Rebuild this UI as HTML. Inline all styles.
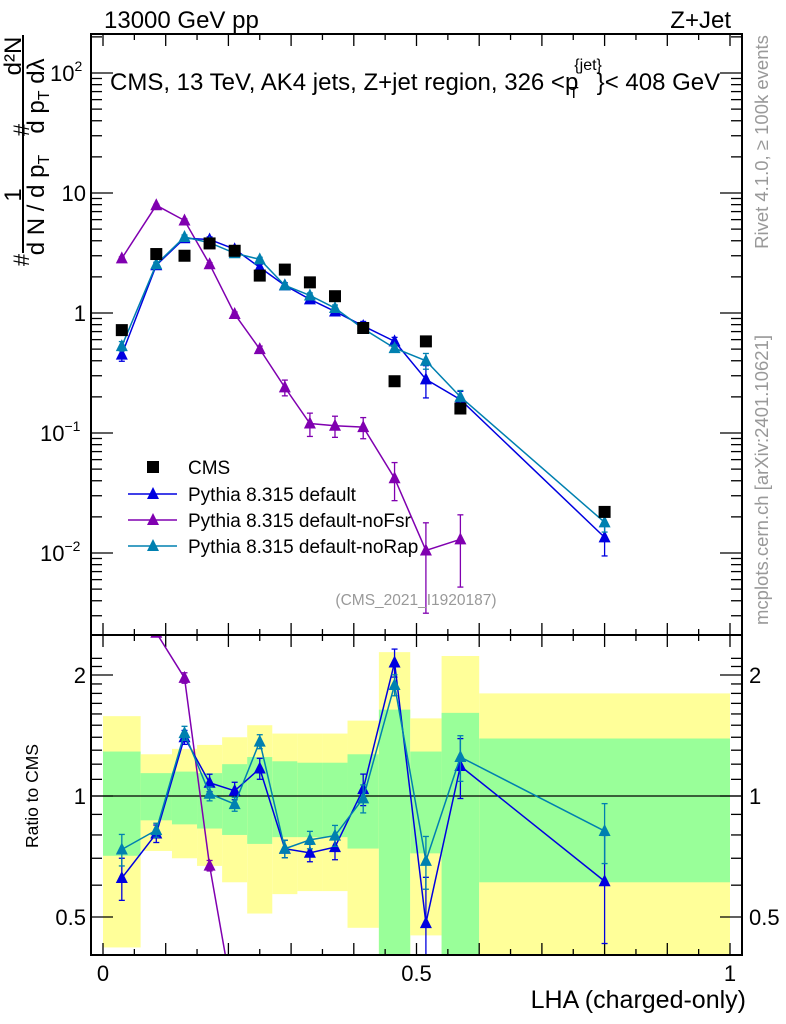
<!DOCTYPE html>
<html><head><meta charset="utf-8"><style>
body{margin:0;background:#fff;overflow:hidden;}
svg{display:block;font-family:"Liberation Sans",sans-serif;}
</style></head><body>
<svg id="c" width="786" height="1024" viewBox="0 0 786 1024" xmlns="http://www.w3.org/2000/svg">
<g id="bands"></g>
<g id="grid"></g>
<g id="marks"></g>
<rect x="91" y="34" width="651" height="601" fill="none" stroke="#000" stroke-width="2"/>
<rect x="91" y="635" width="651" height="320" fill="none" stroke="#000" stroke-width="2"/>
<text x="104" y="28" font-size="24">13000 GeV pp</text>
<text x="731" y="28" font-size="24" text-anchor="end">Z+Jet</text>
<text x="110" y="90" font-size="24">CMS, 13 TeV, AK4 jets, Z+jet region, 326 &lt;p<tspan font-size="16" dx="-4" dy="-20">{jet}</tspan><tspan font-size="16" dx="-33" dy="28">T</tspan><tspan dx="18" dy="-8">}&lt; 408 GeV</tspan></text>
<text x="416" y="605" font-size="15.5" fill="#999" text-anchor="middle">(CMS_2021_I1920187)</text>
<text transform="translate(768,142) rotate(-90)" font-size="18.5" fill="#999" text-anchor="middle">Rivet 4.1.0, ≥ 100k events</text>
<text transform="translate(768,480) rotate(-90)" font-size="18.5" fill="#999" text-anchor="middle">mcplots.cern.ch [arXiv:2401.10621]</text>
<g font-size="24">
<line x1="23" y1="35" x2="23" y2="253" stroke="#000" stroke-width="2"/>
<text transform="translate(29,260) rotate(-90)" text-anchor="middle" font-size="22">#</text>
<text transform="translate(21,195) rotate(-90)" text-anchor="middle">1</text>
<text transform="translate(44,205) rotate(-90)" text-anchor="middle">d N / d p<tspan font-size="16" dy="5">T</tspan></text>
<text transform="translate(29,130) rotate(-90)" text-anchor="middle" font-size="22">#</text>
<text transform="translate(21,56) rotate(-90)" text-anchor="middle">d²N</text>
<text transform="translate(44,96) rotate(-90)" text-anchor="middle">d p<tspan font-size="16" dy="5">T</tspan><tspan dy="-5"> dλ</tspan></text>
</g>
<text transform="translate(38,796) rotate(-90)" font-size="17.5" text-anchor="middle">Ratio to CMS</text>
<text x="746" y="1008" font-size="25" text-anchor="end">LHA (charged-only)</text>
<g id="legend"></g>
</svg>
<script>
const xCenters=[0.03,0.085,0.13,0.17,0.21,0.25,0.29,0.33,0.37,0.415,0.465,0.515,0.57,0.8];
const binEdges=[0,0.06,0.11,0.15,0.19,0.23,0.27,0.31,0.35,0.39,0.44,0.49,0.54,0.6,1.0];
const cmsVals=[0.72,3.1,3.0,3.8,3.3,2.05,2.3,1.8,1.38,0.75,0.27,0.58,0.16,0.022];
const defVals=[0.45,2.5,4.2,4.1,3.4,2.4,1.7,1.3,1.03,0.78,0.58,0.28,0.19,0.0135];
const defErr=[0.12,0.05,0.04,0.05,0.05,0.06,0.05,0.05,0.07,0.09,0.08,0.3,0.17,0.3];
const noRapVals=[0.53,2.55,4.3,3.85,3.15,2.8,1.7,1.4,1.1,0.74,0.51,0.40,0.20,0.018];
const noRapErr=[0.09,0.04,0.04,0.04,0.04,0.04,0.05,0.05,0.06,0.08,0.06,0.15,0.13,0.17];
const noFsrVals=[2.85,7.9,5.9,2.55,0.98,0.5,0.24,0.12,0.115,0.112,0.042,0.0105,0.013];
const noFsrErr=[0.03,0.02,0.03,0.03,0.04,0.06,0.15,0.22,0.2,0.2,0.35,0.7,0.6];
const yellowHi=[1.58,1.27,1.31,1.34,1.40,1.50,1.43,1.43,1.43,1.54,2.28,1.56,2.23,1.80];
const yellowLo=[0.42,0.73,0.70,0.67,0.61,0.51,0.57,0.58,0.58,0.47,0.35,0.45,0.35,0.35];
const greenHi=[1.29,1.14,1.15,1.14,1.20,1.25,1.22,1.21,1.21,1.27,1.64,1.29,1.61,1.39];
const greenLo=[0.71,0.87,0.85,0.83,0.80,0.76,0.79,0.79,0.79,0.74,0.35,0.72,0.35,0.61];
const xTicks=[0,0.5,1];

const NS='http://www.w3.org/2000/svg';
const X=v=>103+627*v;
const Y=v=>313-120*Math.log10(v);
const R=v=>796-121*Math.log2(v);
function mk(tag,attrs,parent){const e=document.createElementNS(NS,tag);for(const k in attrs)e.setAttribute(k,attrs[k]);parent.appendChild(e);return e;}
const svg=document.getElementById('c');
const bands=document.getElementById('bands'),grid=document.getElementById('grid'),marks=document.getElementById('marks');
const defs=mk('defs',{},svg);
const c1=mk('clipPath',{id:'cm'},defs);mk('rect',{x:91,y:34,width:651,height:601},c1);
const c2=mk('clipPath',{id:'cr'},defs);mk('rect',{x:91,y:635,width:651,height:320},c2);
bands.setAttribute('clip-path','url(#cr)');
for(let i=0;i<xCenters.length;i++){
 const x0=X(binEdges[i]),x1=X(binEdges[i+1]);
 const y=mk('rect',{x:x0,y:R(yellowHi[i]),width:x1-x0,height:R(yellowLo[i])-R(yellowHi[i]),fill:'#ffff99'},bands);
 
 
 const g=mk('rect',{x:x0,y:R(greenHi[i]),width:x1-x0,height:R(greenLo[i])-R(greenHi[i]),fill:'#99ff99'},bands);
 
 
}
mk('line',{x1:91,x2:742,y1:R(1),y2:R(1),stroke:'#000','stroke-width':1.3},grid);
for(let k=0;k<=20;k++){const v=k*0.05,x=X(v),L=(k%2==0)?12:6;
 [[34,1],[635,-1],[635,1],[955,-1]].forEach(([yy,d])=>mk('line',{x1:x,x2:x,y1:yy,y2:yy+d*L,stroke:'#000','stroke-width':1.3},grid));}
xTicks.forEach(v=>{const t=mk('text',{x:X(v),y:981,'font-size':22,'text-anchor':'middle'},grid);t.textContent=v;
 
 });
for(let e=-3;e<=2;e++)for(let m=1;m<10;m++){const v=m*Math.pow(10,e),y=Y(v);if(y<35||y>634)continue;const L=m==1?22:11;
 mk('line',{x1:91,x2:91+L,y1:y,y2:y,stroke:'#000','stroke-width':1.3},grid);mk('line',{x1:742,x2:742-L,y1:y,y2:y,stroke:'#000','stroke-width':1.3},grid);}
[[100,'10','2',50],[10,'10','',0],[1,'1','',0],[0.1,'10','−1',40],[0.01,'10','−2',40]].forEach(([v,b,s,x0])=>{
 const t=mk('text',{x:s?x0:86,y:Y(v)+8,'font-size':22,'text-anchor':s?'start':'end'},grid);
 t.textContent=b;if(s){const ts=mk('tspan',{'font-size':14,dy:-10},t);ts.textContent=s;}
 
 });
for(let k=4;k<=22;k++){const v=k/10,y=R(v);if(y<636||y>954)continue;const L=(v==0.5||v==1||v==2)?22:11;
 mk('line',{x1:91,x2:91+L,y1:y,y2:y,stroke:'#000','stroke-width':1.3},grid);mk('line',{x1:742,x2:742-L,y1:y,y2:y,stroke:'#000','stroke-width':1.3},grid);}
[[2,'2'],[1,'1'],[0.5,'0.5']].forEach(([v,s])=>{
 const a=mk('text',{x:86,y:R(v)+8,'font-size':22,'text-anchor':'end'},grid);a.textContent=s;
 
 
 const b=mk('text',{x:749,y:R(v)+8,'font-size':22},grid);b.textContent=s;
 
 });
function tri(x,y,col,p){return mk('polygon',{points:`${x-6},${y+5} ${x+6},${y+5} ${x},${y-7}`,fill:col},p);}
function series(vals,errs,col,name,sy,clip,ratio){
 const g=mk('g',{'clip-path':clip},marks);
 
 
 const pts=vals.map((v,i)=>[X(xCenters[i]),sy(ratio?v/cmsVals[i]:v)]);
 mk('polyline',{points:pts.map(p=>p.join(',')).join(' '),fill:'none',stroke:col,'stroke-width':1.5},g);
 vals.forEach((v,i)=>{const r=ratio?v/cmsVals[i]:v;const x=pts[i][0];
  const y1=sy(r*(1+errs[i])),y2=sy(Math.max(r*(1-errs[i]),1e-4));
  mk('line',{x1:x,x2:x,y1:y1,y2:y2,stroke:col,'stroke-width':1.3},g);
  mk('line',{x1:x-3,x2:x+3,y1:y1,y2:y1,stroke:col,'stroke-width':1.3},g);
  mk('line',{x1:x-3,x2:x+3,y1:y2,y2:y2,stroke:col,'stroke-width':1.3},g);
  const t=tri(x,pts[i][1],col,g);
  
  });
}
series(noFsrVals,noFsrErr,'#8000b0','noFsr-main',Y,'url(#cm)',false);
series(defVals,defErr,'#0000e0','default-main',Y,'url(#cm)',false);
series(noRapVals,noRapErr,'#0080b0','noRap-main',Y,'url(#cm)',false);
series(noFsrVals,noFsrErr,'#8000b0','noFsr-ratio',R,'url(#cr)',true);
series(defVals,defErr,'#0000e0','default-ratio',R,'url(#cr)',true);
series(noRapVals,noRapErr,'#0080b0','noRap-ratio',R,'url(#cr)',true);
cmsVals.forEach((v,i)=>{const r=mk('rect',{x:X(xCenters[i])-6,y:Y(v)-6,width:12,height:12,fill:'#000'},marks);
 
 });
const lg=document.getElementById('legend');
mk('rect',{x:147,y:461,width:12,height:12,fill:'#000'},lg);
const lt=[['CMS',467,null],['Pythia 8.315 default',494,'#0000e0'],['Pythia 8.315 default-noFsr',520,'#8000b0'],['Pythia 8.315 default-noRap',546,'#0080b0']];
lt.forEach(([s,y,c])=>{const t=mk('text',{x:188,y:y+7,'font-size':19},lg);t.textContent=s;
 
 
 if(c){mk('line',{x1:128,x2:177,y1:y,y2:y,stroke:c,'stroke-width':1.5},lg);tri(153,y,c,lg);}});
</script>
</body></html>
